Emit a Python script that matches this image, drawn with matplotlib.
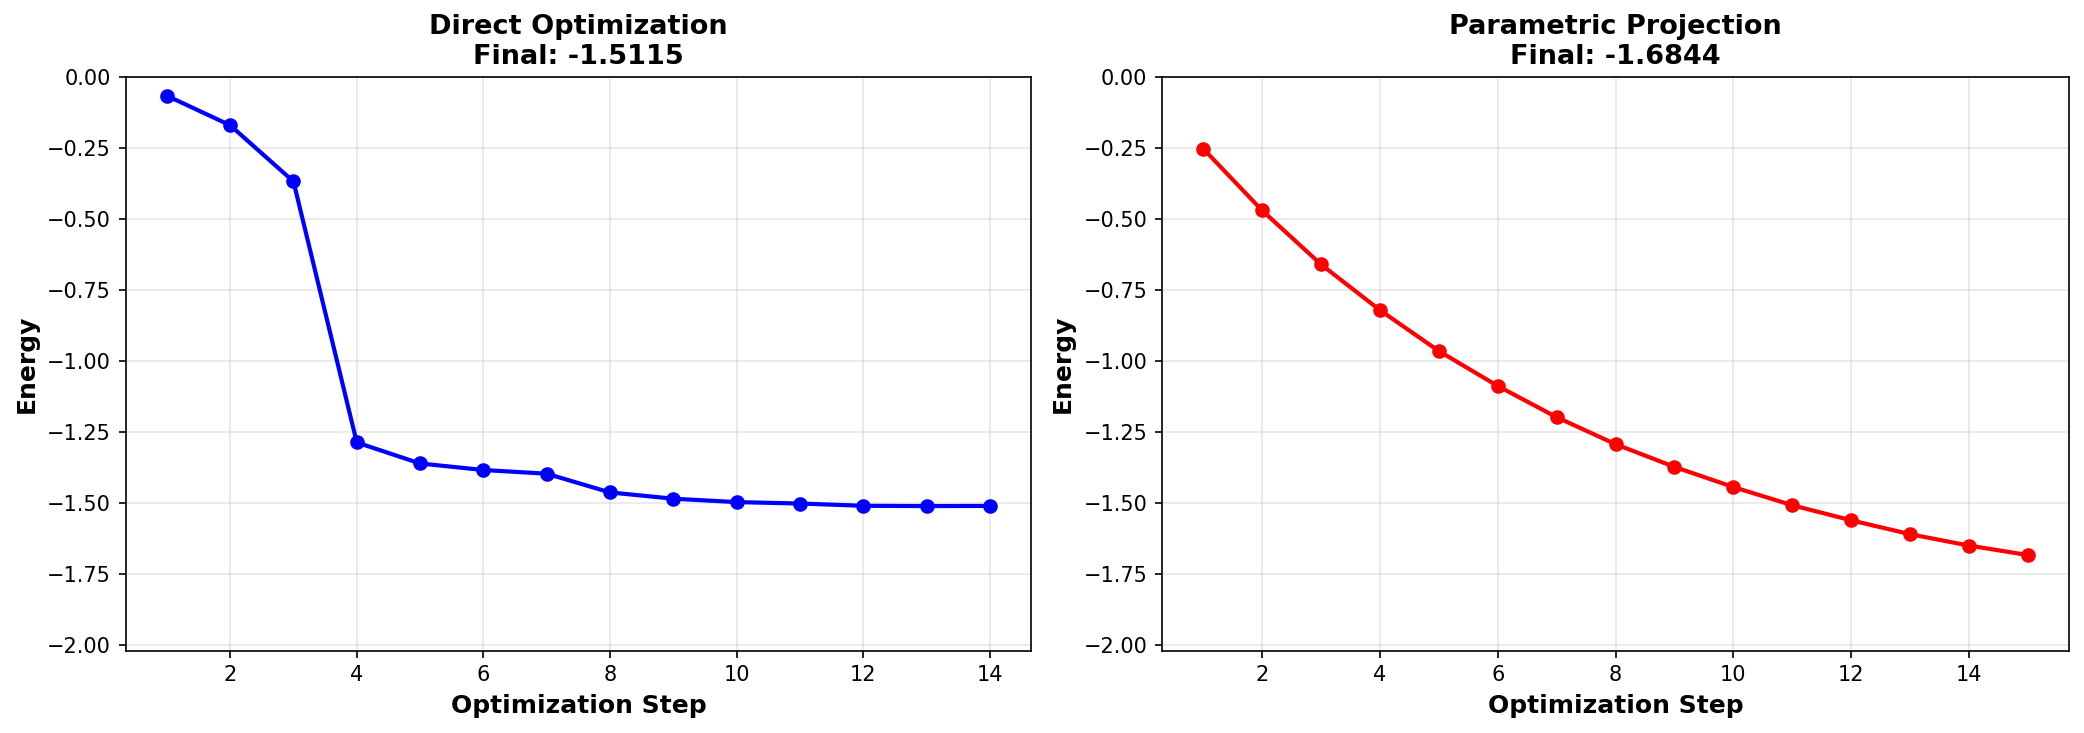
import matplotlib
matplotlib.use("Agg")
import matplotlib.pyplot as plt

direct_steps = list(range(1, 15))
direct_energy = [-0.067, -0.171, -0.369, -1.288, -1.362, -1.385, -1.398,
                 -1.464, -1.486, -1.498, -1.503, -1.511, -1.512, -1.5115]
param_steps = list(range(1, 16))
param_energy = [-0.2535, -0.471, -0.661, -0.822, -0.966, -1.089, -1.199,
                -1.294, -1.374, -1.445, -1.509, -1.562, -1.611, -1.651, -1.6844]

titles = ["Direct Optimization\nFinal: -1.5115", "Parametric Projection\nFinal: -1.6844"]
colors = ["blue", "red"]

W, H = 2084, 733
fig = plt.figure(figsize=(W / 150, H / 150), dpi=150)
ax1 = fig.add_axes([125.7 / W, 82.3 / H, 905.3 / W, 574 / H])
ax2 = fig.add_axes([1162 / W, 82.3 / H, 907 / W, 574 / H])

ymin = min(min(direct_energy), min(param_energy)) * 1.2

for ax, xs, ys, t, c in [(ax1, direct_steps, direct_energy, titles[0], colors[0]),
                         (ax2, param_steps, param_energy, titles[1], colors[1])]:
    ax.plot(xs, ys, '-o', color=c, linewidth=2, markersize=6)
    ax.set_title(t, fontsize=13, fontweight='bold')
    ax.set_xlabel("Optimization Step", fontsize=12, fontweight='bold')
    ax.set_ylabel("Energy", fontsize=12, fontweight='bold')
    ax.grid(True, alpha=0.3)
    ax.set_ylim(ymin, 0)

fig.savefig("out.png", dpi=150)
